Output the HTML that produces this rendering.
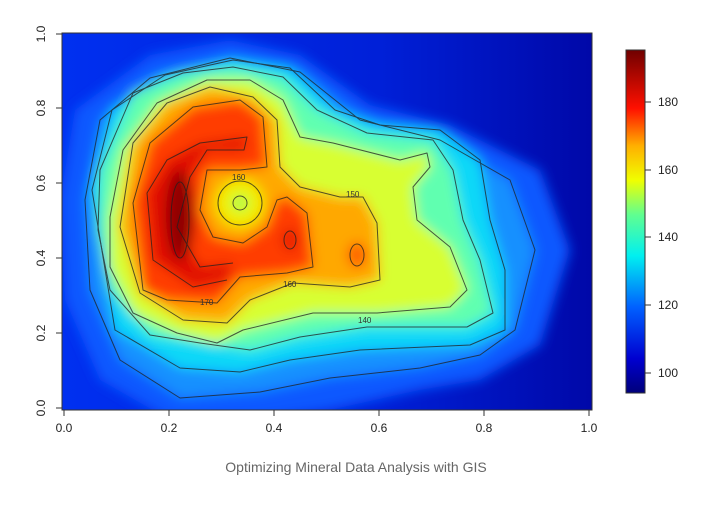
<!DOCTYPE html>
<html><head><style>
body{margin:0;background:#fff;width:712px;height:500px;overflow:hidden;font-family:"Liberation Sans",sans-serif}
</style></head><body>
<svg width="712" height="500" xmlns="http://www.w3.org/2000/svg">
<defs>
<filter id="b" x="-20%" y="-20%" width="140%" height="140%"><feGaussianBlur stdDeviation="6"/></filter>
<clipPath id="c"><rect x="62" y="33" width="530" height="377"/></clipPath>
<linearGradient id="bg" x1="0" y1="0" x2="1" y2="0">
<stop offset="0" stop-color="#0030f0"/><stop offset="0.6" stop-color="#0020d8"/><stop offset="1" stop-color="#0008a8"/>
</linearGradient>
<linearGradient id="cb" x1="0" y1="1" x2="0" y2="0">
<stop offset="0" stop-color="#00007a"/><stop offset="0.1" stop-color="#0000d0"/><stop offset="0.25" stop-color="#0060ff"/>
<stop offset="0.4" stop-color="#00f0f0"/><stop offset="0.52" stop-color="#60ff90"/><stop offset="0.62" stop-color="#f0ff00"/>
<stop offset="0.72" stop-color="#ffb000"/><stop offset="0.83" stop-color="#ff1000"/><stop offset="1" stop-color="#700000"/>
</linearGradient>
</defs>
<g clip-path="url(#c)">
<rect x="62" y="33" width="530" height="377" fill="url(#bg)"/>
<g filter="url(#b)">
<polygon fill="#0858ff" points="60,200 75,110 150,55 230,40 300,55 370,105 450,125 540,170 570,250 540,345 480,380 420,390 330,410 260,420 170,420 100,380 65,300"/>
<polygon fill="#1890ff" points="85,200 100,120 150,78 230,58 300,72 360,120 440,140 510,180 535,250 515,330 480,355 420,368 330,378 260,392 180,398 120,360 90,290"/>
<polygon fill="#10d8f8" points="92,190 112,110 165,75 233,60 290,68 335,110 380,125 440,130 480,160 490,220 505,270 505,330 470,345 360,350 290,360 240,372 180,368 115,330"/>
<polygon fill="#60ffb0" points="100,170 133,93 183,73 233,67 283,77 317,110 367,133 433,140 453,170 463,220 480,260 493,313 467,327 367,327 300,337 250,350 200,343 150,335 110,290 98,230"/>
<polygon fill="#d8ff30" points="110,217 123,150 157,103 207,80 250,80 283,100 300,137 333,143 400,160 427,153 430,167 413,187 417,220 450,247 467,290 450,307 377,313 313,313 243,330 217,343 177,333 133,313 110,267"/>
<polygon fill="#ffa800" points="120,227 133,143 167,103 210,87 253,97 277,120 280,167 300,187 340,197 363,197 377,223 380,280 350,287 293,283 250,300 227,323 183,320 140,293"/>
<polygon fill="#ff3c00" points="133,203 150,143 193,107 240,100 263,117 267,167 240,170 207,170 200,210 213,237 243,243 267,227 277,200 287,197 307,213 313,267 287,273 240,277 217,303 167,300 143,290"/>
<polygon fill="#e01000" points="147,193 167,160 200,143 247,137 244,150 207,150 190,177 177,227 200,267 233,263 227,280 193,287 153,260"/>
<ellipse cx="180" cy="215" rx="14" ry="45" fill="#900000"/>
<ellipse cx="290" cy="240" rx="9" ry="12" fill="#e82000"/>
<ellipse cx="357" cy="255" rx="10" ry="13" fill="#ff6000"/>
<circle cx="240" cy="203" r="24" fill="#f0f000"/>
<circle cx="240" cy="203" r="8" fill="#a0ff50"/>
</g>
<g fill="none" stroke="#202020" stroke-width="1" opacity="0.75" stroke-linejoin="round">
<polygon points="85,200 100,120 150,78 230,58 300,72 360,120 440,140 510,180 535,250 515,330 480,355 420,368 330,378 260,392 180,398 120,360 90,290"/>
<polygon points="92,190 112,110 165,75 233,60 290,68 335,110 380,125 440,130 480,160 490,220 505,270 505,330 470,345 360,350 290,360 240,372 180,368 115,330"/>
<polygon points="100,170 133,93 183,73 233,67 283,77 317,110 367,133 433,140 453,170 463,220 480,260 493,313 467,327 367,327 300,337 250,350 200,343 150,335 110,290 98,230"/>
<polygon points="110,217 123,150 157,103 207,80 250,80 283,100 300,137 333,143 400,160 427,153 430,167 413,187 417,220 450,247 467,290 450,307 377,313 313,313 243,330 217,343 177,333 133,313 110,267"/>
<polygon points="120,227 133,143 167,103 210,87 253,97 277,120 280,167 300,187 340,197 363,197 377,223 380,280 350,287 293,283 250,300 227,323 183,320 140,293"/>
<polygon points="133,203 150,143 193,107 240,100 263,117 267,167 240,170 207,170 200,210 213,237 243,243 267,227 277,200 287,197 307,213 313,267 287,273 240,277 217,303 167,300 143,290"/>
<polyline points="227,280 193,287 153,260 147,193 167,160 200,143 247,137 244,150 207,150 190,177 177,227 200,267 233,263"/>
<ellipse cx="180" cy="220" rx="9" ry="38"/>
<circle cx="240" cy="203" r="22"/><circle cx="240" cy="203" r="7"/>
<ellipse cx="290" cy="240" rx="6" ry="9"/>
<ellipse cx="357" cy="255" rx="7" ry="11"/>
</g>
<g font-size="8" fill="#333">
<text x="232" y="180">160</text><text x="346" y="197">150</text><text x="283" y="287">160</text><text x="358" y="323">140</text><text x="200" y="305">170</text>
</g>
</g>
<rect x="62" y="33" width="530" height="377" fill="none" stroke="#333" stroke-width="1"/>
<g stroke="#333" stroke-width="1">
<line x1="64" y1="410" x2="64" y2="416"/><line x1="169" y1="410" x2="169" y2="416"/><line x1="274" y1="410" x2="274" y2="416"/><line x1="379" y1="410" x2="379" y2="416"/><line x1="484" y1="410" x2="484" y2="416"/><line x1="589" y1="410" x2="589" y2="416"/>
<line x1="56" y1="408" x2="62" y2="408"/><line x1="56" y1="333" x2="62" y2="333"/><line x1="56" y1="258" x2="62" y2="258"/><line x1="56" y1="183" x2="62" y2="183"/><line x1="56" y1="108" x2="62" y2="108"/><line x1="56" y1="34" x2="62" y2="34"/>
<line x1="645" y1="102" x2="651" y2="102"/><line x1="645" y1="170" x2="651" y2="170"/><line x1="645" y1="237" x2="651" y2="237"/><line x1="645" y1="305" x2="651" y2="305"/><line x1="645" y1="373" x2="651" y2="373"/>
</g>
<g font-size="12" fill="#222" text-anchor="middle">
<text x="64" y="432">0.0</text><text x="169" y="432">0.2</text><text x="274" y="432">0.4</text><text x="379" y="432">0.6</text><text x="484" y="432">0.8</text><text x="589" y="432">1.0</text>
</g>
<g font-size="12" fill="#222" text-anchor="middle">
<text transform="translate(45,408) rotate(-90)">0.0</text><text transform="translate(45,333) rotate(-90)">0.2</text><text transform="translate(45,258) rotate(-90)">0.4</text><text transform="translate(45,183) rotate(-90)">0.6</text><text transform="translate(45,108) rotate(-90)">0.8</text><text transform="translate(45,34) rotate(-90)">1.0</text>
</g>
<rect x="626" y="50" width="19" height="343" fill="url(#cb)" stroke="#333" stroke-width="1"/>
<g font-size="12" fill="#222">
<text x="658" y="106">180</text><text x="658" y="174">160</text><text x="658" y="241">140</text><text x="658" y="309">120</text><text x="658" y="377">100</text>
</g>
<text x="356" y="472" text-anchor="middle" font-size="14" fill="#666">Optimizing Mineral Data Analysis with GIS</text>
</svg>
</body></html>
